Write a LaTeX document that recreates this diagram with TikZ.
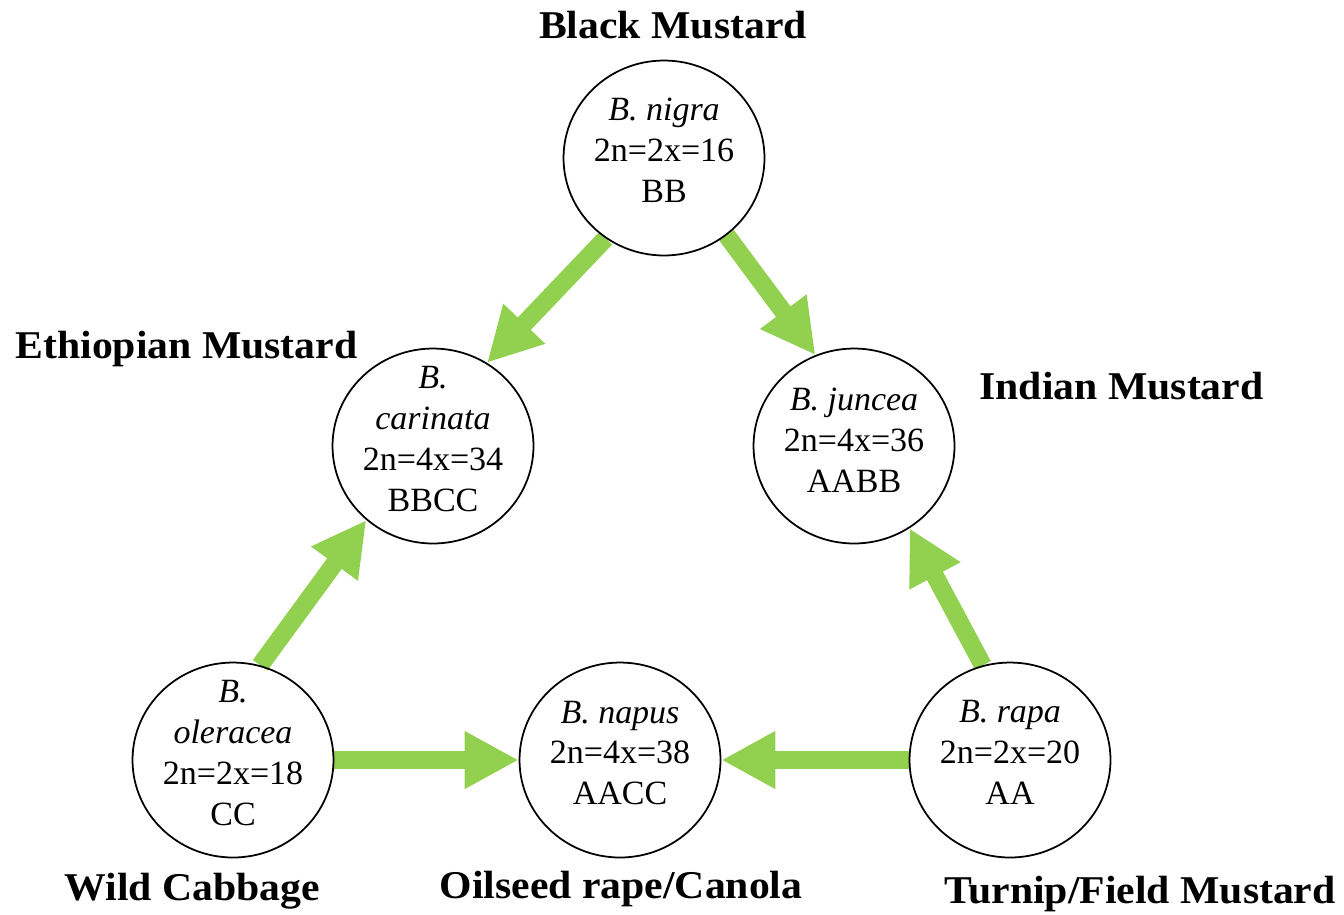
\documentclass[tikz,border=0pt]{standalone}
\usepackage{fontspec}
\setmainfont{Liberation Serif}
\newfontfamily\labfont[FakeStretch=1.06]{Liberation Serif}
\usetikzlibrary{arrows.meta,shapes.geometric}
\definecolor{arrgreen}{HTML}{92D050}
\pgfdeclarelayer{bg}
\pgfsetlayers{bg,main}
\begin{document}
\begin{tikzpicture}[x=0.02cm,y=-0.02cm,
  sp/.style={ellipse,draw=black,line width=1pt,minimum width=4.02cm,minimum height=3.9cm,inner sep=0pt},
  sptext/.style={align=center,inner sep=0pt,font=\fontsize{19.35pt}{23.3pt}\selectfont},
  lab/.style={anchor=base,inner sep=0pt,font=\labfont\bfseries\fontsize{22.4pt}{26pt}\selectfont},
  garrow/.style={draw=arrgreen,line width=0.36cm,-{Triangle[length=1.08cm,width=1.08cm]}}
]
\useasboundingbox (0,0) rectangle (1344,914);

% species circles
\node[sp] (nigra) at (664,158) {};
\node[sp] (carinata) at (433,446) {};
\node[sp] (juncea) at (854,446) {};
\node[sp] (oleracea) at (233,760) {};
\node[sp] (napus) at (620,760) {};
\node[sp] (rapa) at (1010,760) {};

% circle texts
\node[sptext] (nigraT) at (664,150.5) {\textit{B. nigra}\\2n=2x=16\\BB};
\node[sptext] (carinataT) at (433,439) {\textit{B.}\\\textit{carinata}\\2n=4x=34\\BBCC};
\node[sptext] (junceaT) at (854,440) {\textit{B. juncea}\\2n=4x=36\\AABB};
\node[sptext] (oleraceaT) at (233,753) {\textit{B.}\\\textit{oleracea}\\2n=2x=18\\CC};
\node[sptext] (napusT) at (620,753) {\textit{B. napus}\\2n=4x=38\\AACC};
\node[sptext] (rapaT) at (1010,752.5) {\textit{B. rapa}\\2n=2x=20\\AA};

% common names
\node[lab] (lblack) at (673,38) {Black Mustard};
\node[lab] (leth) at (186.5,358) {Ethiopian Mustard};
\node[lab] (lind) at (1121.5,399) {Indian Mustard};
\node[lab] (lwild) at (192.5,900) {Wild Cabbage};
\node[lab] (loil) at (621,898) {Oilseed rape/Canola};
\node[lab] (lturn) at (1140,903) {Turnip/Field Mustard};

% arrows
\begin{pgfonlayer}{bg}
\draw[garrow] (nigra.234) -- (carinata.57);
\draw[garrow] (nigra.-51) -- (juncea.113);
\draw[garrow] (oleracea.74) -- (carinata.228);
\draw[garrow] (rapa.106) -- (juncea.-56);
\draw[garrow] (oleracea.0) -- (napus.180);
\draw[garrow] (rapa.180) -- (napus.0);
\end{pgfonlayer}
\end{tikzpicture}
\end{document}
